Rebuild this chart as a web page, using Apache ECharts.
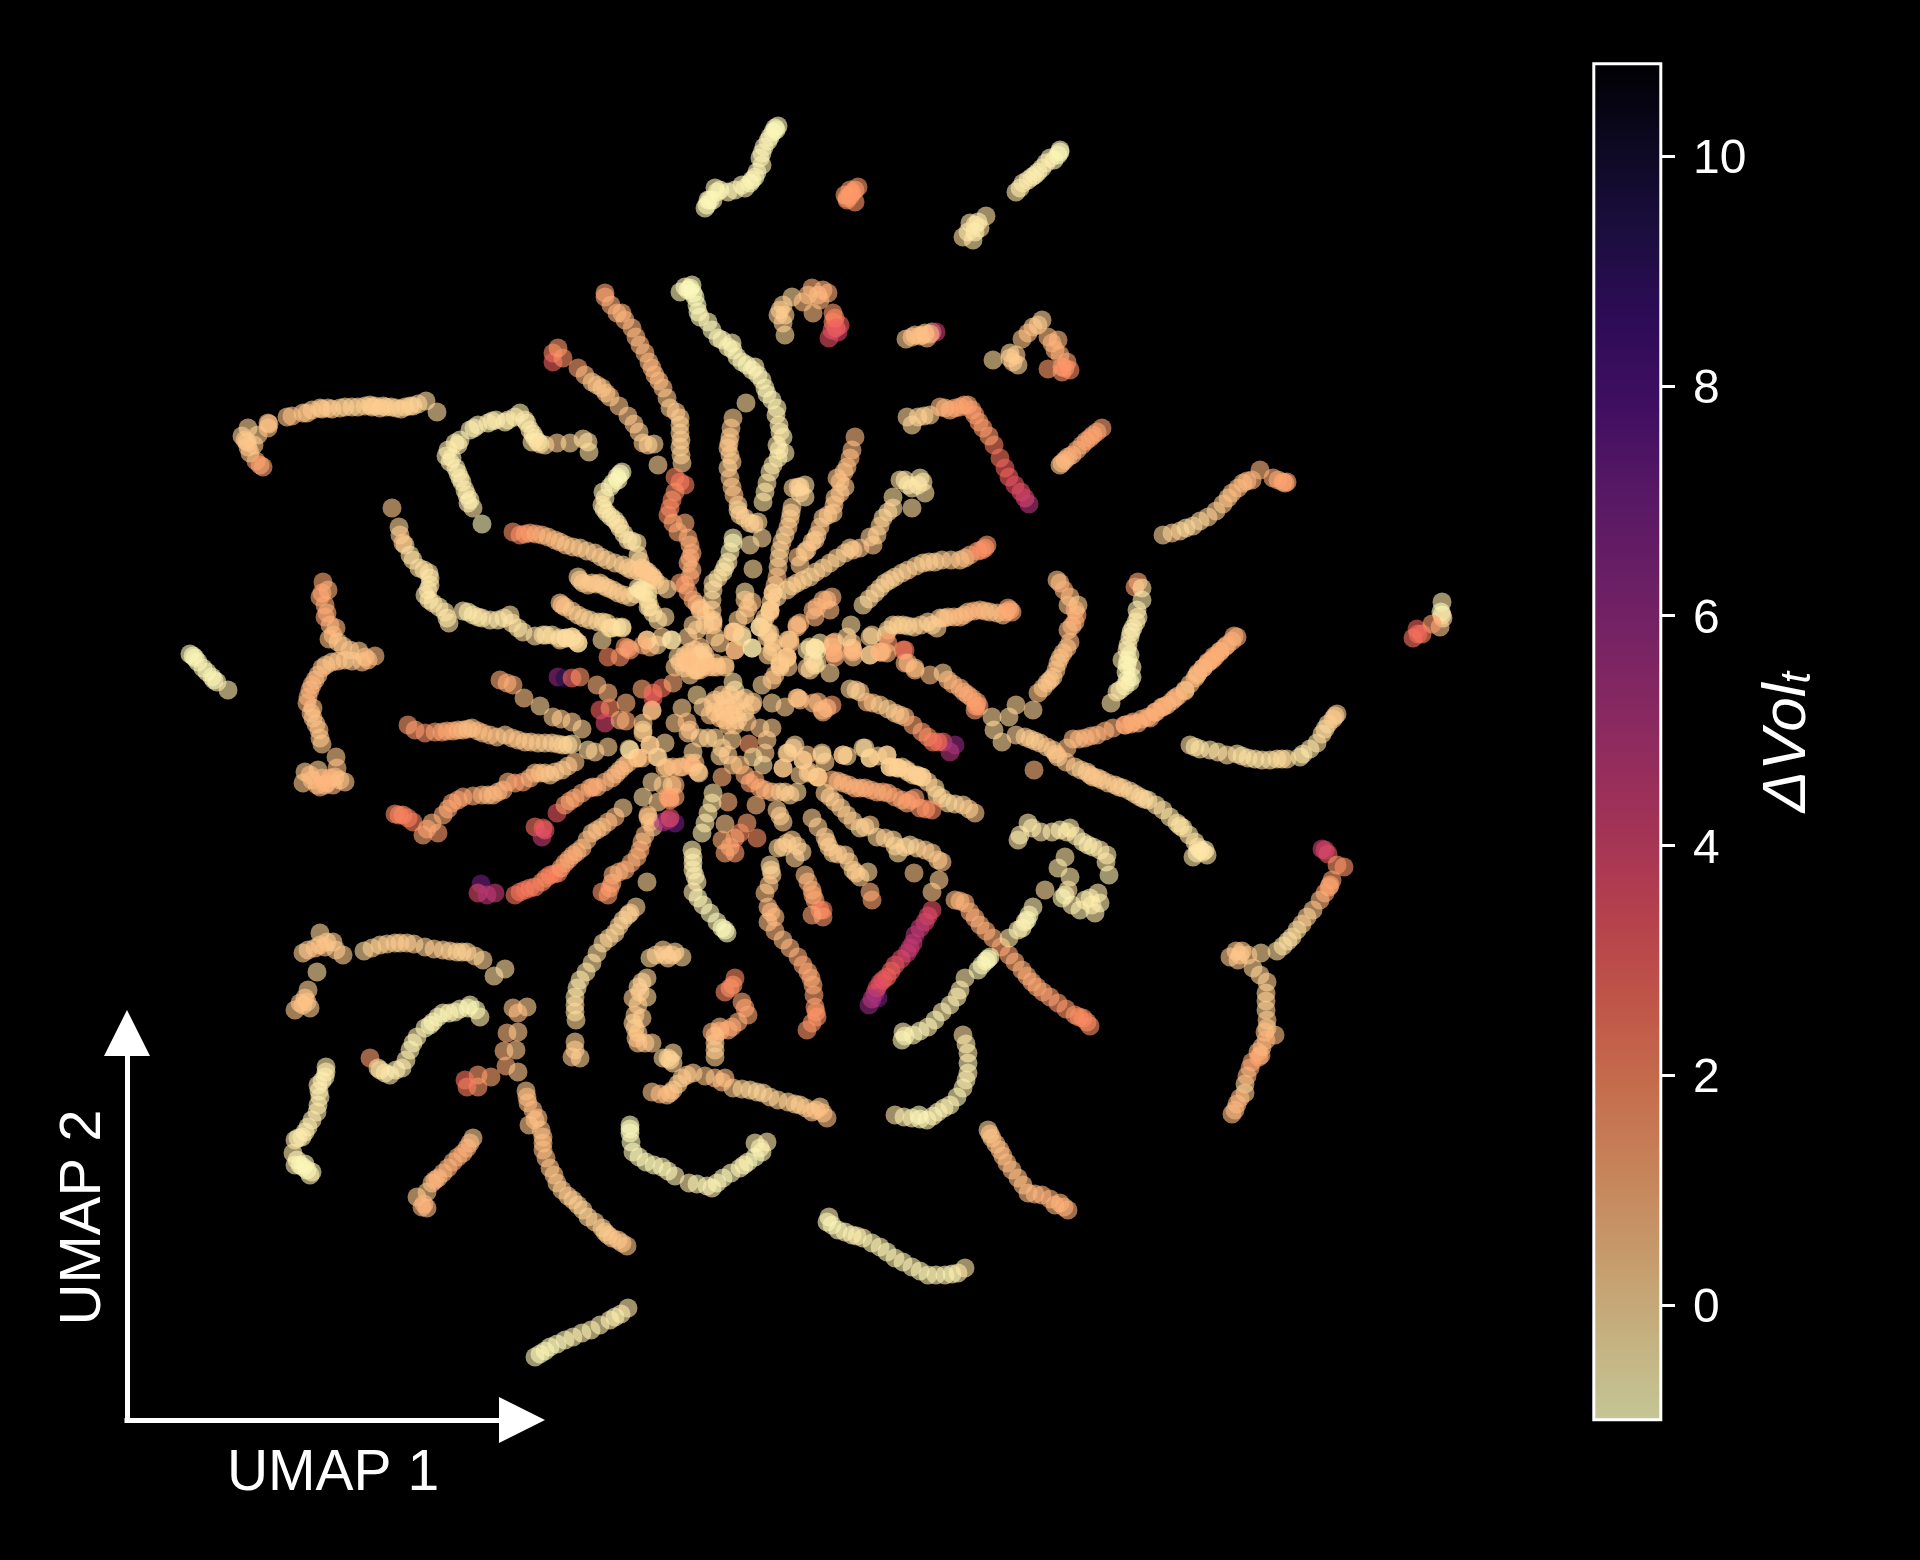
<!DOCTYPE html>
<html><head><meta charset="utf-8">
<style>html,body{margin:0;padding:0;background:#000}#c{width:1920px;height:1560px}</style>
<script src="https://cdn.jsdelivr.net/npm/echarts@6/dist/echarts.min.js"></script>
</head><body><div id="c"></div>
<script>
// Each point: [UMAP 1, UMAP 2, dVol].
const arcTopLeft=[[263,467,1.3],[256,461,1.2],[248,447,.4],[247,442,.3],[242,436,.3],[248,428,.2],[258,435,.2],[268,423,.4],[269,424,.5],[287,417,.5],[303,413,.2],[307,413,.5],[320,408,.2],[322,409,.3],[332,409,.2],[345,407,.1],[358,407,.1],[370,405,.1],[372,407,.2],[380,408,.2],[383,406,.2],[391,407,.1],[401,409,.1],[410,406,.1],[413,406,.2],[426,401,-.1],[437,412,-.1],[250,453,.5],[254,445,.4],[245,440,.4],[268,428,.5],[292,416,.6],[312,410,.4],[328,408,.4],[340,408,.3],[352,407,.2],[365,406,.3],[375,406,.3],[386,407,.3],[396,408,.2],[405,407,.2],[418,404,.1],[260,465,1.3]];
const hookTop=[[482,524,-.8],[473,508,-.4],[467,495,-.4],[468,503,-.5],[460,478,-.5],[458,473,-.5],[450,462,-.5],[446,456,-.5],[455,443,-.5],[460,440,-.7],[474,428,-.5],[492,421,-.5],[508,420,-.4],[520,413,-.4],[527,423,-.3],[535,438,-.3],[532,442,-.3],[545,445,0],[557,443,.3],[570,443,.1],[583,439,-.1],[588,442,-.1],[589,452,-.2],[470,500,-.6],[462,482,-.6],[465,490,-.6],[456,468,-.6],[452,458,-.6],[448,450,-.5],[458,445,-.5],[470,430,-.6],[478,425,-.6],[488,423,-.5],[496,420,-.6],[505,422,-.6],[515,417,-.5],[525,420,-.5],[530,430,-.5],[533,434,-.5],[538,442,-.5],[540,444,-.2]];
const rayA=[[605,293,1.2],[605,297,1.2],[617,313,.8],[622,313,.9],[632,328,.8],[640,345,.9],[649,362,.8],[655,375,.7],[663,388,.6],[670,408,.3],[680,418,.3],[680,433,.2],[680,447,.1],[682,463,.2],[675,477,2],[685,485,2.2],[672,500,1.8],[668,515,1.8],[678,532,1.2],[685,523,1.1],[690,545,1],[692,553,1.1],[688,563,1],[692,570,.8],[685,585,1.3],[680,583,1.5],[693,600,1],[700,608,.6],[713,620,.4],[611,305,1],[625,320,.9],[636,337,.8],[645,353,.8],[652,368,.8],[659,381,.7],[667,398,.5],[676,412,.4],[680,425,.3],[681,440,.3],[681,455,.3],[680,482,2.3],[675,492,1.8],[670,508,1.9],[673,523,1.3],[688,538,1.1],[690,558,1.1],[690,577,1.2],[688,592,1.3],[697,604,.9],[706,614,.7]];
const rayB=[[553,353,2.1],[553,362,3],[563,358,1.8],[558,348,1.6],[578,368,1.4],[592,382,.3],[602,388,.4],[610,397,.5],[628,416,.4],[639,432,.2],[643,443,.2],[654,444,.1],[658,465,.1],[585,375,.7],[597,385,.5],[606,393,.5],[619,406,.5],[634,424,.4],[648,445,.3]];
const rayC=[[746,403,-.1],[733,418,.2],[730,437,.3],[728,448,.3],[732,462,.3],[728,468,.2],[732,487,.5],[738,505,.1],[738,510,0],[750,523,0],[758,522,0],[731,428,.4],[729,443,.4],[730,455,.4],[730,478,.4],[734,495,.5],[740,515,.2],[745,518,.2],[754,524,.2]];
const rayPale=[[685,287,-.9],[692,285,-.8],[680,292,-.7],[695,297,-.8],[698,312,-.8],[708,322,-.7],[718,338,-.7],[732,343,-.6],[728,347,-.7],[737,357,-.7],[752,370,-.7],[755,367,-.6],[762,380,-.6],[767,394,-.6],[777,408,-.6],[780,432,-.4],[777,445,-.4],[785,453,-.4],[773,465,-.3],[767,483,-.2],[763,502,-.3],[688,290,-.9],[690,288,-.9],[693,293,-.9],[697,305,-.9],[700,317,-.8],[712,330,-.8],[722,340,-.7],[733,350,-.7],[742,362,-.7],[747,365,-.8],[758,375,-.7],[765,388,-.7],[772,400,-.7],[776,415,-.5],[779,425,-.5],[783,437,-.5],[779,450,-.5],[778,458,-.5],[770,472,-.4],[765,492,-.3]];
const rayD=[[855,437,.7],[852,450,.7],[847,467,.5],[837,478,.4],[845,487,.3],[835,498,.4],[833,513,.2],[823,518,.2],[817,535,.3],[812,542,.2],[850,458,.8],[844,472,.6],[840,482,.6],[840,493,.5],[834,505,.5],[828,515,.4],[820,527,.4],[815,540,.4]];
const rayE=[[800,487,0],[805,485,-.2],[793,488,0],[805,497,-.2],[792,507,.1],[790,519,.2],[785,535,0],[780,550,.1],[778,567,.1],[777,577,.7],[773,593,.2],[770,610,.2],[760,627,-.1],[798,487,.2],[800,493,.1],[791,513,.3],[788,527,.3],[782,542,.3],[779,558,.3],[775,585,.4],[771,602,.3],[765,618,.2]];
const rayF=[[900,480,-.2],[905,480,-.3],[912,488,-.3],[923,482,-.3],[925,493,-.2],[912,508,-.1],[893,497,-.2],[893,508,0],[883,518,-.1],[877,535,.2],[870,537,.2],[853,550,.3],[850,548,.3],[837,558,.1],[823,568,.1],[810,577,.1],[797,583,.1],[787,590,.1],[777,597,.1],[908,485,-.4],[918,485,-.4],[920,478,-.4],[888,512,.1],[880,526,.3],[873,545,.4],[860,548,.4],[845,553,.3],[830,563,.3],[816,572,.3],[803,580,.3],[792,586,.3]];
const rayShort=[[798,557,.6],[805,552,.6],[753,569,0]];
const rayPaleLeft=[[617,477,-.7],[622,472,-.7],[613,483,-.6],[603,492,-.5],[602,505,-.2],[607,513,-.3],[615,520,-.3],[620,528,-.2],[628,540,-.2],[637,543,-.2],[638,555,-.2],[642,568,.2],[648,572,.3],[655,580,.3],[667,589,.1],[620,474,-.9],[618,480,-.9],[610,487,-.8],[605,498,-.5],[604,509,-.5],[611,517,-.5],[618,524,-.4],[624,534,-.4],[632,541,-.4],[640,561,.1],[645,570,.3],[652,576,.4],[660,585,.3]];
const rayG=[[513,532,1.8],[520,535,1.8],[530,533,1.3],[542,535,.9],[555,540,.6],[560,542,.6],[573,547,.4],[580,548,.3],[595,553,.2],[607,560,.2],[623,565,.1],[632,570,.2],[643,572,.4],[653,578,.3],[525,534,1.5],[536,534,1.1],[548,537,.7],[566,545,.5],[587,551,.3],[601,557,.3],[615,563,.2],[628,568,.3],[638,571,.4],[648,575,.4]];
const rayH=[[578,577,.1],[583,583,.3],[592,583,.3],[600,583,.3],[608,588,.2],[618,593,.2],[630,597,.2],[640,590,-.3],[648,593,-.3],[648,607,-.2],[658,620,-.1],[665,617,0],[580,580,.3],[588,585,.4],[596,584,.4],[604,586,.3],[613,590,.3],[624,595,.3],[636,594,-.2],[644,592,-.3],[648,600,-.3],[653,613,-.2]];
const rayI=[[560,603,.4],[565,607,.4],[578,615,.2],[590,620,.1],[607,623,0],[612,628,-.1],[622,627,-.1],[560,640,.3],[572,637,.1],[578,643,.1],[602,640,-.1],[562,605,.5],[572,611,.3],[584,618,.2],[598,622,.1],[617,627,-.1],[566,638,.2],[575,640,.2]];
const rayJ=[[608,657,2],[620,657,1.7],[628,648,1.3],[630,650,1.4],[647,640,.2],[650,647,1],[662,637,.2],[671,640,-.3]];
const clumpTop=[[688,637,.2],[693,625,.2],[712,600,.1],[713,583,-.1],[723,572,-.3],[728,562,-.4],[733,543,-.7],[733,538,-.7],[750,545,-.2],[762,538,.1],[700,610,.4],[713,622,.3],[715,637,.3],[700,647,.5],[693,663,.3],[678,657,.1],[675,667,.3],[687,663,.5],[700,667,.3],[713,667,.5],[725,667,.3],[735,650,.8],[733,632,.5],[742,637,-.1],[752,648,-.4],[745,592,-.2],[752,602,.5],[745,615,.5],[770,612,.3],[767,637,.3],[772,652,.3],[787,657,.4],[780,665,.3],[790,640,.4],[797,625,.8],[817,607,.9],[827,600,.9],[832,597,.8],[815,617,.9],[830,610,.7],[851,625,-.1],[693,665,.4],[680,662,.4],[703,658,.4],[715,663,.5],[725,665,.5],[690,675,.3],[685,655,.3],[695,650,.4],[705,655,.4],[690,660,.4],[698,660,.5],[706,662,.5],[684,668,.4],[695,670,.4],[690,652,.4],[700,655,.3]];
const rayK=[[863,605,-.1],[875,593,0],[885,583,.1],[895,577,.1],[908,570,.2],[923,563,.1],[935,562,.2],[942,560,.2],[960,560,.3],[970,555,1],[985,548,1.8],[987,545,1.5],[869,599,0],[880,588,.1],[890,580,.2],[902,573,.2],[916,566,.2],[929,562,.3],[951,560,.4],[965,558,.6],[978,551,1.5],[982,550,1.8]];
const rayL=[[870,655,.1],[880,652,.9],[888,630,.1],[893,625,.1],[903,625,.1],[914,627,.1],[928,622,.1],[937,628,.2],[940,618,.3],[948,617,.5],[960,617,.6],[968,612,.7],[980,610,.8],[990,612,.5],[1003,615,.6],[1008,608,1.2],[1012,612,1],[921,625,.2],[932,625,.2],[944,618,.4],[954,617,.6],[964,615,.7],[974,611,.8],[985,611,.7],[997,613,.6],[1006,612,1.1],[1010,610,1.2],[886,635,.2],[898,625,.2],[908,626,.2]];
const clumpMid=[[810,647,-.3],[815,648,-.3],[817,663,-.2],[810,670,.1],[830,673,.1],[832,647,.8],[853,650,.7],[835,657,.9],[903,650,2.2],[888,643,1.6],[872,635,.1]];
const rayM=[[905,663,.8],[915,668,.7],[930,675,.6],[943,673,.3],[948,680,.7],[960,688,1],[968,695,1],[977,702,1.3],[975,710,1.4],[979,706,1.5],[992,717,.1],[1009,717,0],[1016,705,.1],[1033,710,.1],[994,730,0],[1002,742,0],[1016,735,.1],[1030,739,.2],[1040,743,.3],[1053,750,.3],[1058,757,.3],[1075,767,.2],[1087,772,.2],[1093,777,.3],[1102,780,.3],[1115,785,.2],[1123,788,.2],[1140,797,0],[1148,800,-.1],[1163,810,-.1],[1177,823,-.2],[1183,828,-.2],[1195,842,-.2],[1198,847,-.2],[1193,857,-.3],[1207,855,-.3],[1203,852,-.3],[953,684,.9],[964,692,1],[972,698,1.2],[976,706,1.5],[1025,737,.3],[1035,741,.3],[1047,747,.4],[1056,754,.4],[1066,762,.4],[1081,770,.3],[1090,775,.4],[1098,778,.4],[1108,783,.3],[1119,787,.3],[1144,799,-.1],[1156,805,-.2],[1170,817,-.3],[1180,826,-.3],[1189,835,-.3],[1200,850,-.4],[1197,853,-.4],[1205,850,-.4],[1130,791,.1],[1135,794,.1]];
const curveRight=[[1038,693,.5],[1047,683,.3],[1053,677,.3],[1058,663,.5],[1063,653,.5],[1070,642,.7],[1068,630,.7],[1075,622,.8],[1077,615,1.2],[1078,605,.2],[1068,605,.5],[1070,597,.5],[1060,583,.9],[1057,580,.5],[1043,688,.5],[1050,680,.4],[1056,670,.5],[1060,658,.5],[1067,648,.6],[1072,626,.8],[1075,610,.9],[1064,590,.9]];
const rayPaleRight=[[1138,582,1.1],[1135,587,1.3],[1142,588,-.1],[1142,600,-.5],[1138,617,-.3],[1133,628,-.5],[1130,637,-.5],[1127,650,-.5],[1122,660,-.4],[1132,667,-.5],[1130,682,-.7],[1120,690,-.4],[1127,680,-.5],[1117,692,-.4],[1111,703,-.3],[1130,655,-.7],[1136,622,-.5],[1131,632,-.6],[1128,645,-.6],[1126,672,-.7],[1125,686,-.7],[1132,677,-.8],[1137,610,-.5],[1128,660,-.7],[1127,665,-.8]];
const rayN=[[1237,637,.9],[1225,647,.8],[1215,657,.8],[1208,663,.8],[1198,673,.6],[1195,678,.6],[1185,690,.6],[1167,705,.6],[1162,707,.4],[1148,717,.9],[1138,723,.9],[1125,725,1],[1113,728,1],[1097,735,.9],[1085,738,.8],[1073,739,.7],[1067,748,.6],[1232,641,1],[1220,652,.9],[1212,660,.9],[1203,668,.9],[1190,684,.7],[1175,698,.7],[1155,712,.9],[1131,724,1],[1105,731,1],[1091,736,.9],[1079,739,.8]];
const arcTopRight=[[1163,535,.1],[1180,531,.2],[1193,526,0],[1208,517,.2],[1223,504,.5],[1232,493,.6],[1243,483,.6],[1252,480,.9],[1260,470,.9],[1273,478,1],[1283,482,1.1],[1287,482,1.2],[1172,533,.2],[1186,528,-.1],[1200,521,.1],[1216,511,.3],[1228,498,.5],[1238,488,.7],[1247,481,.8],[1278,480,1.2],[1285,483,1.3]];
const shortOrange=[[1060,465,.5],[1065,460,.7],[1072,455,.8],[1082,445,1.1],[1090,438,1.2],[1097,432,1.3],[1102,428,1.3],[1062,463,.6],[1068,457,.9],[1077,450,1],[1086,441,1.2],[1093,435,1.3]];
const coralTail=[[912,425,0],[907,417,.1],[918,417,.1],[930,415,.2],[940,407,.7],[950,410,.9],[960,407,1.2],[968,405,1.1],[975,415,1.5],[983,428,1.6],[994,445,2.3],[1000,458,2.5],[1009,477,3],[1021,492,3.5],[1029,504,5],[945,408,.9],[955,408,1.2],[964,405,1.3],[972,410,1.4],[979,422,1.5],[989,436,1.5],[924,416,.2],[1005,468,3],[1015,485,3.5],[1025,498,4]];
const topPale=[[778,126,-.8],[775,128,-.7],[770,137,-.7],[762,153,-.7],[762,165,-.6],[755,177,-.7],[745,188,-.5],[742,185,-.7],[728,192,-.6],[715,188,-.7],[713,200,-.6],[705,208,-.8],[776,130,-.9],[773,132,-.9],[768,141,-.8],[764,147,-.7],[760,158,-.7],[757,172,-.7],[750,183,-.8],[752,180,-.8],[735,190,-.7],[720,190,-.8],[717,192,-.8],[710,200,-.8],[707,205,-.9],[708,200,-.8]];
const topBlob=[[858,187,1.6],[852,193,1.4],[847,200,1.6],[847,198,1.7],[855,190,1.5],[850,196,1.5],[845,195,1.4],[855,202,1.6],[850,190,1.6]];
const topRightPale=[[1060,152,-.7],[1050,158,-.6],[1042,168,-.5],[1032,177,-.5],[1023,183,-.4],[1016,192,-.4],[986,216,-.2],[980,228,-.1],[975,225,-.3],[970,223,-.3],[973,240,-.3],[963,237,-.1],[1058,155,-.9],[1060,150,-.8],[1054,160,-.8],[1046,163,-.6],[1038,172,-.7],[1035,175,-.6],[1028,180,-.6],[1020,188,-.5],[975,232,-.5],[978,222,-.5],[968,232,-.4]];
const archOrange=[[785,335,0],[783,323,.2],[778,315,.3],[783,305,.3],[792,297,.1],[803,302,.6],[812,288,1],[813,313,.6],[820,300,.7],[823,290,.9],[828,293,1.1],[833,313,1.6],[833,322,2],[840,325,3],[832,330,3],[829,338,3.5],[838,332,4],[780,310,.3],[785,315,.3],[818,295,.8],[808,295,.7],[835,318,2],[836,328,3]];
const smallPink=[[906,339,.3],[915,335,.5],[923,335,.6],[927,338,.6],[932,332,.7],[936,332,4.5],[912,337,.5],[920,336,.6],[930,334,.8],[925,333,.5]];
const triRight=[[993,360,0],[1010,353,.1],[1013,362,.4],[1018,365,.1],[1022,339,.5],[1033,327,.5],[1042,320,.1],[1048,337,.7],[1058,340,.8],[1055,350,1],[1067,362,1.3],[1048,369,1.5],[1062,372,1.6],[1070,370,1.9],[1010,358,.3],[1016,355,.3],[1028,333,.6],[1038,325,.4],[1052,343,.9],[1060,355,1],[1062,367,1.5],[1065,368,1.7]];
const shortPaleLeft=[[190,654,-.8],[195,658,-.8],[203,668,-.7],[212,677,-.7],[217,682,-.6],[228,690,-.5],[193,656,-.9],[198,662,-.8],[207,672,-.8],[214,680,-.8]];
const leftStrand=[[323,582,1.2],[328,590,1],[320,597,1.3],[327,613,1],[325,617,1.2],[336,628,.8],[329,639,.6],[343,646,.3],[359,651,.4],[365,657,.6],[375,656,.7],[362,662,.5],[345,660,.3],[332,662,.4],[322,668,.5],[315,680,.7],[310,690,.7],[307,703,.9],[313,708,.6],[313,718,.4],[319,730,.6],[322,744,.4],[322,593,1.2],[325,605,1.1],[330,625,.9],[333,635,.7],[338,642,.5],[350,650,.4],[368,660,.7],[352,661,.4],[338,661,.5],[326,665,.5],[318,675,.7],[312,685,.8],[308,697,.9],[311,713,.6],[316,724,.5],[320,738,.5]];
const leftBlob=[[336,757,.4],[337,768,.6],[305,772,.3],[318,770,.3],[303,783,.4],[312,780,.7],[317,785,.7],[327,783,.7],[335,777,.7],[345,782,.4],[333,785,.6],[310,775,.7],[322,778,.8],[330,778,.8],[340,780,.6],[325,785,.8],[320,787,.8]];
const rayO=[[392,508,.4],[399,527,.1],[403,543,.4],[405,545,.1],[410,555,-.2],[419,568,-.2],[429,573,-.2],[430,585,-.3],[425,595,-.4],[433,603,-.3],[445,612,-.2],[449,623,-.2],[463,611,-.4],[473,615,-.3],[482,618,-.2],[498,620,-.3],[510,615,-.2],[512,623,-.2],[523,632,-.2],[543,635,-.1],[552,635,-.1],[560,638,-.2],[572,637,-.1],[578,643,-.2],[400,535,.3],[413,560,-.2],[424,570,-.2],[430,578,-.4],[428,590,-.4],[429,600,-.4],[439,607,-.4],[447,618,-.4],[468,612,-.5],[478,617,-.4],[490,620,-.4],[504,618,-.4],[518,628,-.3],[535,636,-.2],[546,635,-.2],[566,638,-.2]];
const darkRay=[[558,677,6],[565,678,9.5],[572,678,2.8],[580,677,1.7],[597,685,.9],[608,693,.8],[500,680,1.1],[507,683,1.1],[513,685,1],[524,698,.5],[540,706,.1],[553,717,.3],[561,719,.4],[572,722,.3],[582,729,.2]];
const blobMid=[[600,710,3],[610,708,2],[605,723,4],[626,703,1],[626,721,1.2],[620,720,1],[643,733,.3],[652,711,.6],[642,689,1.2],[653,693,2.5],[653,698,3],[662,688,2.5],[673,683,1.1]];
const rayP=[[408,725,1.5],[415,730,1.4],[425,733,1.7],[442,732,1.4],[453,731,1],[463,730,.7],[472,728,.5],[483,733,.7],[497,737,.5],[505,735,.4],[518,740,.4],[525,742,.3],[538,743,.3],[552,743,.1],[563,745,.1],[572,744,-.1],[588,750,-.2],[595,752,.2],[608,747,.3],[629,749,-.2],[637,758,.3],[435,732,1.3],[447,731,1.2],[458,730,.9],[468,729,.6],[478,731,.7],[490,735,.6],[512,738,.5],[531,742,.4],[545,743,.3],[558,744,.2],[568,745,.1]];
const rayQ=[[395,814,1.9],[403,815,1.8],[413,822,2.2],[423,835,1.2],[438,833,1.5],[432,823,.9],[443,815,1],[452,803,1.2],[463,797,1.3],[482,795,.9],[493,795,.5],[503,790,.8],[508,782,.9],[523,782,1.4],[535,773,.6],[545,773,.4],[550,775,.3],[562,770,.3],[575,762,.5],[399,815,2],[408,818,2.2],[427,829,1.3],[448,809,1.2],[458,800,1.3],[473,796,1.1],[488,795,.8],[498,792,.9],[515,783,1.3],[530,778,.9],[540,773,.6],[555,772,.4],[568,766,.4]];
const rayR=[[535,827,2.5],[543,828,3],[542,837,4.5],[545,830,3.2],[557,813,3.3],[565,805,1.5],[575,798,1.1],[590,788,1],[597,787,1],[612,778,.8],[620,770,.6],[628,763,.7],[638,758,.6],[570,801,1.3],[582,793,1.2],[593,787,1.1],[605,782,.9],[616,774,.8],[624,766,.7]];
const rayS=[[481,884,7],[478,893,3.8],[487,895,5],[495,893,4.5],[515,895,2.5],[525,890,2.5],[535,887,2],[542,882,1.8],[550,875,2],[558,873,2],[565,863,1.2],[573,855,1],[582,848,.7],[592,833,.4],[602,827,.6],[615,817,.8],[623,808,.2],[520,892,2.5],[530,888,2.3],[546,878,2],[554,874,2.2],[561,868,1.5],[569,859,1.2],[577,852,1],[587,840,.7],[597,830,.6],[608,822,.7]];
const rayT=[[602,892,1.7],[608,895,1.5],[612,883,1],[613,875,.9],[625,870,1],[637,857,1],[642,842,.9],[648,817,.5],[653,827,.4],[643,797,-.1],[647,882,.1],[658,802,.2],[672,785,.3],[675,797,1.2],[610,888,1.5],[619,872,1],[631,863,1.1],[640,850,1],[645,835,.7],[650,822,.6]];
const blobMagenta=[[670,798,1.2],[668,820,5],[663,822,5.5],[675,823,7],[670,818,3.5]];
const clumpLow=[[665,743,.1],[650,745,.2],[657,757,.1],[667,767,.5],[673,767,.7],[682,767,.7],[695,763,.7],[698,772,.3],[693,752,.1],[652,782,.1],[682,708,.2],[675,723,.4],[688,733,.4],[708,738,.1],[687,722,.7],[697,695,0],[703,707,.1],[713,703,.3],[710,715,.5],[722,710,.4],[733,682,-.2],[735,690,-.3],[745,698,-.1],[728,707,.4],[737,712,.5],[725,720,.5],[732,740,.2],[747,722,.3],[760,728,.5],[772,728,.2],[767,740,.3],[749,744,1.4],[765,753,.3],[753,757,-.1],[763,765,-.1],[733,765,.5],[720,756,.1],[722,777,1],[728,802,1],[713,793,-.3],[708,813,-.3],[702,833,-.5],[725,824,.4],[747,823,1.3],[757,838,1.8],[740,833,1.8],[722,840,1.1],[730,847,1.3],[735,853,1.5],[725,853,1.2],[750,783,1.4],[760,788,1.2],[772,792,.4],[780,792,.3],[797,792,0],[756,805,.7],[715,700,.4],[725,700,.5],[735,705,.5],[740,700,.4],[725,712,.5],[732,715,.4],[738,720,.4],[720,718,.5],[745,712,.3],[730,695,.3],[722,695,.3],[715,712,.4],[752,705,.3],[735,725,.3],[728,725,.5]];
const rightOfClump=[[772,703,.1],[785,707,.3],[798,698,.7],[818,702,.9],[822,710,1.1],[832,705,1.5],[795,745,.1],[787,753,.2],[783,768,.3],[803,760,.2],[822,755,.1],[825,762,.2],[843,755,.3],[818,777,.4],[808,773,.2]];
const centerDiscs=[[610,628,-.2],[622,628,-.3],[647,640,.2],[657,645,.1],[672,640,-.4],[713,625,.4],[735,632,.3],[742,635,-.3],[735,650,.6],[752,648,-.5],[760,627,-.3],[768,633,.1],[773,642,.3],[788,640,.3],[797,627,.6],[815,648,-.5],[835,642,.6],[833,653,.9],[852,648,.6],[853,657,.4],[870,655,.2],[882,652,.9],[887,653,.8],[813,660,-.3],[815,665,-.2],[807,668,.1],[687,662,.4],[697,670,.3],[703,652,.3],[708,667,.6],[762,685,.1],[772,680,.4],[780,663,.4],[788,667,.3],[787,657,.4],[775,675,.5],[753,702,.4],[797,698,.6],[800,700,.5],[813,703,.7],[823,712,.9],[827,708,.8],[643,730,.3],[643,723,.3],[652,710,.5],[658,757,.1],[650,745,.3],[630,750,-.3],[642,758,.5],[665,768,.5],[680,767,.7],[690,763,.7],[693,767,.8],[699,773,.3],[675,785,.8],[663,785,.3],[668,797,1.3],[670,800,1.4],[648,815,.5],[788,753,.2],[793,748,.1],[783,768,.4],[803,760,.3],[807,755,.4],[822,753,.1],[843,755,.5],[847,756,0],[800,775,.2],[818,777,.5],[810,772,.4],[863,748,0],[870,758,.1],[887,755,.2],[890,767,.3],[898,768,.2],[907,770,.2],[917,775,.1],[922,777,0],[720,643,.3],[687,657,.6],[692,665,.6],[700,670,.5],[717,667,.5],[733,632,.4],[763,623,.1],[770,633,.2],[773,647,.3],[768,655,.3],[787,658,.4],[780,667,.3],[790,643,.5],[800,623,.7],[770,610,.3],[773,593,.3],[813,610,.8],[823,600,.9],[807,650,-.3],[817,650,-.4],[820,643,-.3],[833,643,.9],[835,653,1],[853,652,.8],[852,643,.7],[847,637,.1],[870,637,.1],[880,652,.9],[905,650,2.3],[908,663,.8],[915,670,.7],[603,622,0],[650,607,-.2],[642,590,-.3],[638,588,-.4],[643,645,1],[625,647,1.4],[730,552,-.5],[725,567,-.4],[718,578,-.2],[713,590,-.1],[712,610,.2],[705,625,.3],[697,630,.3],[807,550,.3],[800,565,.3],[745,600,.3],[748,608,.4],[738,620,.3],[690,730,.4],[700,738,.2],[715,738,.2],[722,748,.2],[728,755,.3],[740,765,.5],[745,775,1],[755,780,1.2],[765,790,1],[785,792,.3],[790,795,.2],[712,803,-.3],[705,823,-.4],[735,838,1.3]];
const rayU=[[850,689,.1],[860,692,.3],[867,702,.7],[880,705,.2],[895,713,.1],[905,717,.6],[922,732,1.5],[933,742,2.2],[943,742,2.9],[955,745,6],[950,752,5],[856,690,.2],[873,703,.5],[888,709,.3],[900,715,.5],[913,725,1.3],[928,737,1.8],[938,742,2.6]];
const rayV=[[865,748,-.1],[870,758,0],[887,755,.1],[890,767,.1],[898,768,0],[902,767,.1],[913,775,.1],[922,777,.1],[935,788,0],[937,795,0],[948,803,-.1],[963,805,0],[975,813,.4],[878,756,.2],[894,767,.2],[908,772,.2],[918,776,.2],[928,782,.2],[942,798,.1],[955,804,.1],[969,809,.3]];
const rayW=[[817,777,.3],[832,780,.8],[843,783,.7],[855,788,.9],[865,788,1],[877,792,1],[888,793,1.1],[902,800,1.2],[907,803,1.1],[915,798,1.4],[920,808,1.5],[932,810,1.8],[838,781,.9],[849,785,.9],[860,788,1],[871,790,1.1],[883,792,1.2],[895,797,1.3],[911,800,1.5],[926,809,1.7]];
const rayX=[[825,793,.3],[835,802,.2],[847,815,.3],[860,828,0],[870,825,.3],[877,837,.1],[893,840,0],[898,853,0],[910,845,-.1],[917,848,.1],[932,853,.2],[938,860,.5],[942,862,.4],[939,880,.3],[932,892,.4],[830,797,.3],[841,808,.3],[853,821,.3],[865,827,.2],[885,838,.2],[895,846,.1],[905,847,.1],[925,850,.3]];
const rayY=[[812,818,.2],[825,837,.3],[827,842,.2],[833,853,.2],[845,855,.3],[853,870,.1],[860,877,.3],[868,872,.1],[870,892,1],[872,900,1.2],[818,827,.3],[829,847,.3],[838,854,.3],[849,862,.3],[856,873,.3]];
const rayZ=[[777,810,.2],[783,822,.2],[783,847,.2],[792,840,.2],[802,852,.1],[795,858,.1],[778,848,.1],[770,865,0],[772,875,.2],[765,893,.6],[768,907,.6],[775,917,.7],[780,816,.3],[787,843,.3],[797,846,.2],[771,870,.1],[769,885,.4],[771,912,.8]];
const rayAA=[[805,875,.5],[812,890,1],[815,900,1.3],[823,910,2.3],[820,910,2],[823,917,1.6],[812,915,1.3],[768,922,.6],[783,940,.7],[798,957,1.1],[808,972,1.1],[813,985,1.1],[815,1007,1.5],[817,1017,1.6],[807,1030,1.6],[808,882,.9],[813,895,1.2],[775,931,.8],[790,948,.9],[803,965,1.2],[811,978,1.2],[814,995,1.3],[816,1012,1.6],[812,1023,1.7]];
const magentaStrand=[[932,910,3.5],[925,922,4],[915,935,5],[913,943,4.6],[907,953,4.5],[895,965,3],[887,977,2.8],[880,983,3.5],[875,993,4],[878,998,7],[869,1005,6],[928,916,3.8],[920,928,4.5],[910,948,4.5],[901,959,3.7],[891,971,3],[883,980,3.2],[877,988,3.6],[872,999,5]];
const lowerRightOrange=[[955,900,.7],[965,903,.9],[970,912,1.1],[980,925,1],[993,938,1],[1009,955,1.2],[1022,970,1],[1032,982,1.1],[1043,992,1.3],[1058,1003,1.5],[1075,1015,1.6],[1083,1018,1.9],[1090,1026,1.8],[960,901,.9],[975,918,1],[986,931,1.1],[1001,947,1.2],[1015,962,1.1],[1027,976,1.1],[1037,987,1.2],[1050,997,1.4],[1066,1009,1.6],[1079,1017,1.8],[1087,1022,1.9]];
const crossPale=[[1045,890,-.1],[1033,907,-.6],[1025,922,-.6],[1022,928,-.7],[1009,938,-.3],[990,957,-.7],[982,965,-.8],[965,978,-.4],[957,997,-.6],[942,1012,-.5],[928,1027,-.6],[913,1035,-.6],[903,1032,-.4],[902,1040,-.7],[1029,915,-.7],[1027,920,-.8],[986,961,-.9],[988,959,-.8],[978,970,-.8],[960,990,-.6],[950,1005,-.6],[935,1020,-.7],[920,1031,-.7],[905,1036,-.7],[1018,930,-.6]];
const loopPale=[[1018,840,-.4],[1028,823,-.4],[1032,828,-.5],[1052,832,-.4],[1067,832,-.5],[1070,828,-.4],[1083,842,-.5],[1093,847,-.5],[1107,855,-.3],[1106,862,-.4],[1109,875,-.6],[1065,857,-.3],[1058,868,-.4],[1070,877,-.4],[1068,890,-.2],[1062,898,-.7],[1080,910,-.6],[1085,900,-.5],[1095,913,-.5],[1098,893,-.4],[1100,903,-.5],[1090,898,-.5],[1072,905,-.5],[1020,835,-.5],[1041,832,-.4],[1060,830,-.5],[1076,836,-.5],[1088,845,-.6],[1100,850,-.4],[1065,895,-.7],[1092,905,-.5]];
const hookRightLow=[[963,1035,-.2],[968,1053,-.3],[968,1073,-.5],[963,1088,-.5],[950,1105,-.6],[938,1112,-.5],[927,1120,-.6],[912,1118,-.5],[895,1115,-.3],[966,1044,-.5],[968,1063,-.6],[966,1080,-.6],[957,1097,-.7],[944,1108,-.7],[933,1116,-.7],[920,1119,-.7],[904,1117,-.6],[919,1115,-.8]];
const orangeLower=[[988,1130,.2],[992,1138,.6],[1000,1150,.7],[1007,1163,.7],[1018,1178,.6],[1028,1193,.7],[1042,1195,.9],[1060,1203,.9],[1068,1210,1],[990,1134,.4],[996,1144,.6],[1003,1156,.7],[1012,1170,.7],[1023,1185,.7],[1035,1194,.8],[1050,1199,1],[1055,1205,.9],[1064,1207,1]];
const coralHook=[[735,978,2],[733,985,1.7],[725,992,1.9],[742,1002,1.2],[748,1015,1.2],[728,1030,1],[712,1032,1],[720,1027,.8],[715,1043,.2],[715,1057,.3],[730,988,1.8],[745,1008,1.3],[720,1031,1],[738,1022,1.1],[732,1027,1.2],[715,1036,.6],[715,1050,.3]];
const pale693=[[692,850,-.5],[693,857,-.5],[693,870,-.5],[697,882,-.4],[693,892,-.4],[703,905,-.6],[717,922,-.7],[727,933,-.8],[693,863,-.6],[695,876,-.6],[698,898,-.7],[710,913,-.8],[722,928,-.9],[725,930,-.9]];
const rayLeftLow=[[636,907,.1],[628,915,.2],[623,920,0],[615,933,0],[603,943,-.1],[592,963,-.2],[580,980,-.3],[575,997,-.2],[576,1020,0],[575,1042,.2],[572,1057,.4],[580,1058,.2],[630,913,.2],[619,926,.1],[609,938,.1],[597,953,-.1],[586,972,-.3],[577,988,-.4],[575,1005,-.2],[575,1012,-.1],[575,1050,.3]];
const arcLowLeft=[[320,933,.1],[303,953,.2],[315,948,.5],[327,942,.4],[333,942,.2],[343,955,.3],[364,951,0],[380,945,.1],[395,943,.2],[407,943,.2],[425,947,.1],[443,950,.2],[457,952,.1],[467,952,0],[483,960,.1],[505,969,-.1],[494,976,-.1],[317,972,-.1],[308,990,.2],[305,998,.4],[295,1010,.4],[310,1008,.3],[303,1005,.5],[308,950,.4],[320,945,.5],[325,947,.5],[336,950,.4],[372,948,.2],[387,944,.3],[400,943,.3],[414,944,.3],[434,949,.3],[450,951,.3],[462,952,.2],[475,956,.2],[300,1003,.5],[307,1002,.5]];
const paleCurl=[[470,1005,-.7],[480,1017,-.5],[443,1013,-.6],[455,1012,-.5],[433,1022,-.6],[425,1028,-.7],[417,1037,-.6],[410,1050,-.5],[402,1068,-.4],[390,1075,-.4],[380,1070,-.5],[370,1058,1.4],[476,1010,-.7],[449,1013,-.7],[438,1017,-.8],[430,1025,-.8],[413,1043,-.7],[406,1060,-.6],[396,1070,-.6],[385,1073,-.6],[378,1068,-.2],[460,1009,-.7],[468,1008,-.8]];
const tanColumn=[[513,1008,.5],[527,1007,.2],[518,1013,.7],[507,1033,.8],[518,1032,.4],[504,1051,.8],[516,1050,.4],[506,1066,1.1],[518,1072,.4],[491,1077,1.2],[478,1075,1.5],[478,1087,1.6],[465,1080,2.5],[467,1087,2.2]];
const tanDown=[[526,1091,.4],[528,1103,.6],[538,1118,.6],[529,1125,.4],[543,1137,.4],[543,1150,.7],[550,1168,.5],[557,1183,.3],[568,1196,.3],[578,1205,.1],[588,1217,0],[602,1228,.1],[608,1235,.2],[618,1240,.3],[627,1246,.5],[527,1097,.7],[533,1110,.8],[535,1120,.6],[541,1130,.6],[543,1143,.7],[546,1158,.6],[554,1175,.5],[562,1190,.4],[573,1200,.3],[583,1210,.2],[595,1222,.3],[605,1232,.3],[612,1238,.4],[622,1243,.5]];
const paleLeftLow=[[326,1067,-.4],[325,1077,-.4],[318,1085,-.4],[320,1097,-.4],[317,1112,-.3],[308,1127,-.4],[302,1137,-.4],[295,1140,-.3],[293,1153,-.4],[295,1165,-.5],[303,1167,-.6],[312,1172,-.7],[310,1175,-.5],[326,1072,-.6],[322,1081,-.6],[319,1091,-.6],[318,1105,-.5],[312,1120,-.6],[305,1132,-.6],[298,1138,-.6],[297,1160,-.7],[300,1165,-.8],[307,1170,-.9],[305,1164,-.8]];
const orangeBar=[[473,1138,.2],[467,1148,.8],[458,1157,.9],[448,1168,.9],[438,1178,.7],[432,1183,.6],[427,1192,.5],[417,1197,.3],[422,1207,.9],[427,1208,.6],[470,1143,.7],[463,1153,1],[453,1162,1],[443,1173,.9],[435,1180,.8],[424,1204,.9]];
const cShape=[[650,958,0],[663,950,.2],[668,958,.2],[675,952,.1],[682,957,.1],[647,978,.1],[638,987,0],[647,997,0],[633,998,.3],[642,1018,.3],[633,1023,.1],[638,1033,.4],[638,1043,.5],[652,1043,.2],[663,1058,.1],[673,1053,0],[673,1063,.1],[656,955,.2],[665,955,.3],[672,955,.3],[642,982,.1],[640,992,.2],[638,1005,.3],[635,1015,.3],[635,1028,.3],[636,1038,.5],[645,1043,.4],[668,1058,.2],[670,1060,.1]];
const lowerStrand=[[652,1092,.5],[667,1095,.5],[673,1090,.5],[682,1078,.2],[693,1073,.3],[715,1078,.6],[733,1088,.2],[750,1090,0],[763,1093,.1],[770,1097,.1],[788,1102,.3],[800,1105,.1],[812,1112,.4],[820,1107,.1],[827,1118,.6],[660,1094,.7],[670,1093,.6],[678,1084,.3],[687,1075,.4],[705,1076,.5],[722,1082,.6],[725,1078,.6],[742,1089,.2],[757,1092,.1],[778,1100,.2],[795,1104,.3],[806,1108,.4],[816,1110,.5],[823,1113,.6]];
const paleCurve=[[630,1125,-.9],[630,1133,-.9],[633,1152,-.7],[646,1162,-.7],[662,1167,-.7],[675,1176,-.6],[689,1183,-.4],[707,1186,-.8],[712,1188,-.6],[723,1178,-.7],[740,1168,-.6],[748,1162,-.6],[762,1152,-.7],[755,1143,-.5],[767,1142,-.4],[630,1129,-.9],[631,1142,-.9],[639,1157,-.8],[654,1165,-.8],[668,1171,-.7],[697,1184,-.7],[717,1183,-.8],[731,1173,-.8],[744,1165,-.7],[755,1157,-.8],[760,1148,-.7]];
const paleLow=[[829,1217,-.6],[827,1222,-.8],[838,1230,-.7],[852,1235,-.6],[863,1238,-.5],[880,1247,-.5],[895,1258,-.5],[912,1267,-.5],[928,1275,-.5],[945,1275,-.5],[958,1273,-.5],[965,1268,-.3],[832,1225,-.8],[845,1232,-.7],[857,1236,-.6],[872,1243,-.7],[887,1252,-.7],[903,1262,-.7],[920,1271,-.7],[936,1275,-.7],[952,1274,-.7]];
const paleBottom=[[535,1357,-.7],[545,1351,-.8],[557,1344,-.7],[573,1337,-.6],[591,1330,-.5],[610,1320,-.5],[621,1314,-.5],[628,1308,-.4],[540,1354,-.8],[550,1347,-.8],[565,1340,-.7],[582,1333,-.6],[600,1325,-.6],[615,1317,-.6]];
const rayLong=[[1234,636,1],[1220,651,.9],[1208,662,1],[1197,675,.7],[1185,691,.5],[1172,701,.8],[1163,707,1.1],[1150,718,1],[1142,719,1],[1125,725,1.2],[1227,645,1],[1214,656,1.1],[1203,668,.9],[1178,696,.8],[1156,712,1],[1133,722,1.1]];
const flatRight=[[1190,745,-.1],[1200,749,-.2],[1218,752,-.1],[1227,755,-.2],[1237,754,-.1],[1248,758,-.2],[1262,760,-.1],[1277,759,0],[1287,759,.1],[1303,754,-.2],[1317,743,-.2],[1322,734,-.1],[1328,724,.1],[1337,714,.3],[1195,747,-.3],[1210,750,-.3],[1242,756,-.3],[1255,759,-.3],[1270,760,-.3],[1282,759,-.1],[1300,757,-.4],[1310,749,-.4],[1325,729,-.1],[1333,719,.2],[1335,716,.3]];
const farBlob=[[1442,602,-.4],[1442,615,-.9],[1440,627,.4],[1422,634,2],[1417,629,3],[1413,638,2.4],[1441,612,-.9],[1443,618,-.2],[1432,624,1.5],[1418,634,2.7]];
const farRight=[[1322,849,4.2],[1328,854,3.2],[1337,865,1.6],[1344,867,1.7],[1332,880,1.4],[1325,893,1.3],[1313,910,.3],[1302,924,.3],[1292,937,-.1],[1288,941,-.2],[1277,951,-.1],[1261,953,0],[1242,951,.3],[1230,957,.4],[1238,960,.4],[1253,968,.1],[1267,982,.3],[1266,993,.1],[1266,1010,.1],[1267,1028,.3],[1275,1035,.7],[1258,1052,.9],[1259,1057,1.2],[1250,1068,1.2],[1245,1084,.1],[1245,1093,.3],[1237,1104,.7],[1232,1114,.7],[1325,850,4],[1329,887,1.2],[1320,900,.8],[1307,917,.2],[1297,930,-.1],[1283,946,-.2],[1248,955,.4],[1240,955,.5],[1236,951,.4],[1260,975,.2],[1266,1001,.3],[1267,1020,.4],[1265,1032,.6],[1261,1055,1.1],[1240,1098,.8],[1235,1110,.8],[1330,885,1.3],[1266,1040,.9],[1262,1047,.8],[1252,1062,1.2],[1247,1076,.8]];
const singles=[[914,873,.5],[1034,770,.8]];

const strands=[arcTopLeft,hookTop,rayA,rayB,rayC,rayPale,rayD,rayE,rayF,rayShort,rayPaleLeft,rayG,rayH,rayI,rayJ,clumpTop,rayK,rayL,clumpMid,rayM,curveRight,rayPaleRight,rayN,arcTopRight,shortOrange,coralTail,topPale,topBlob,topRightPale,archOrange,smallPink,triRight,shortPaleLeft,leftStrand,leftBlob,rayO,darkRay,blobMid,rayP,rayQ,rayR,rayS,rayT,blobMagenta,clumpLow,rightOfClump,centerDiscs,rayU,rayV,rayW,rayX,rayY,rayZ,rayAA,magentaStrand,lowerRightOrange,crossPale,loopPale,hookRightLow,orangeLower,coralHook,pale693,rayLeftLow,arcLowLeft,paleCurl,tanColumn,tanDown,paleLeftLow,orangeBar,cShape,lowerStrand,paleCurve,paleLow,paleBottom,rayLong,flatRight,farBlob,farRight,singles];
const colorTicks=[0,2,4,6,8,10];
const colorRange=[-1,10.8];
const magmaRamp=['#fcfdbf','#fde2a3','#fec488','#fea772','#fc8961','#f56b5c','#e75263','#d0416f','#b73779','#9e2f7f','#862781','#6e1e81','#51127c','#3a0f6f','#231151','#110b2d','#000004'];

const alpha=0.78;
const rgba=h=>{const n=parseInt(h.slice(1),16);return `rgba(${n>>16},${(n>>8)&255},${n&255},${alpha})`;};
const FONT='"Liberation Sans", Arial, sans-serif';
const chart=echarts.init(document.getElementById('c'),null,{width:1920,height:1560,renderer:'canvas'});
chart.setOption({
  animation:false,backgroundColor:'#000',
  grid:[
    {left:0,top:0,width:1920,height:1560},
    {left:1661,top:64,width:1,height:1356},
    {left:127,top:1033,width:395,height:387}
  ],
  xAxis:[
    {gridIndex:0,type:'value',min:0,max:1920,show:false},
    {gridIndex:1,type:'value',min:0,max:1,show:false},
    {gridIndex:2,type:'value',min:0,max:1,name:'UMAP 1',nameLocation:'middle',nameGap:26,
     nameTextStyle:{color:'#fff',fontFamily:FONT,fontSize:57,padding:[0,0,0,17]},
     axisLine:{show:true,symbol:['none','triangle'],symbolSize:[46,46],lineStyle:{color:'#fff',width:5,cap:'square'}},
     axisTick:{show:false},axisLabel:{show:false},splitLine:{show:false}}
  ],
  yAxis:[
    {gridIndex:0,type:'value',min:0,max:1560,inverse:true,show:false},
    {gridIndex:1,type:'value',min:colorRange[0],max:colorRange[1],position:'right',
     axisLine:{show:false},
     axisTick:{show:true,length:14,customValues:colorTicks,lineStyle:{color:'#fff',width:3}},
     axisLabel:{show:true,color:'#fff',fontFamily:FONT,fontSize:48,margin:31,verticalAlign:'top',lineHeight:8,customValues:colorTicks},
     splitLine:{show:false},
     name:'{a|ΔVol}{b|t}',nameLocation:'middle',nameGap:95,nameRotate:90,
     nameTextStyle:{color:'#fff',rich:{
       a:{fontFamily:FONT,fontStyle:'italic',fontSize:62,color:'#fff'},
       b:{fontFamily:FONT,fontStyle:'italic',fontSize:42,color:'#fff',verticalAlign:'bottom',padding:[14,0,0,0]}}}},
    {gridIndex:2,type:'value',min:0,max:1,name:'UMAP 2',nameLocation:'middle',nameGap:14,
     nameTextStyle:{color:'#fff',fontFamily:FONT,fontSize:58,padding:[0,0,0,18]},
     axisLine:{show:true,symbol:['none','triangle'],symbolSize:[46,46],lineStyle:{color:'#fff',width:5,cap:'square'}},
     axisTick:{show:false},axisLabel:{show:false},splitLine:{show:false}}
  ],
  visualMap:{type:'continuous',seriesIndex:0,dimension:2,min:colorRange[0],max:colorRange[1],
    left:1594,top:64,padding:0,itemWidth:67,itemHeight:1356,calculable:false,showLabel:false,text:null,
    hoverLink:false,z:1,inRange:{color:magmaRamp.map(rgba)},outOfRange:{color:['rgba(0,0,0,0)']}},
  graphic:[{type:'rect',z:100,silent:true,shape:{x:1593.8,y:63.7,width:67,height:1356},
    style:{fill:'none',stroke:'#fff',lineWidth:3}}],
  series:[{type:'scatter',xAxisIndex:0,yAxisIndex:0,symbol:'circle',symbolSize:19,z:3,
    progressive:0,large:false,silent:true,itemStyle:{borderWidth:0},
    data:strands.flat()}]
});
</script></body></html>
